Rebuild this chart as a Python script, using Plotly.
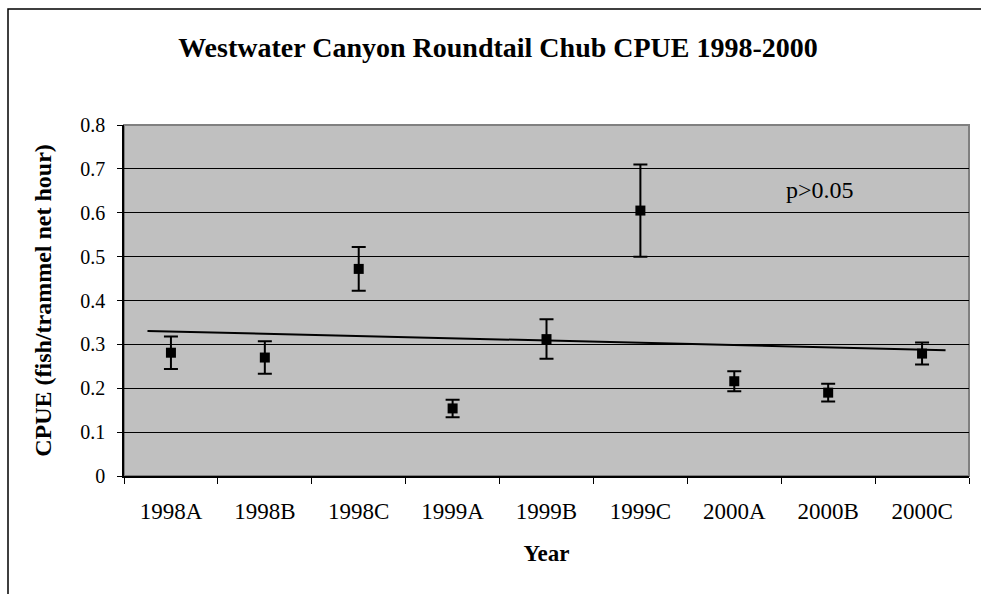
import numpy as np
import plotly.graph_objects as go

categories = ["1998A", "1998B", "1998C", "1999A", "1999B", "1999C", "2000A", "2000B", "2000C"]
cpue = [0.281, 0.270, 0.472, 0.154, 0.312, 0.605, 0.216, 0.190, 0.279]
err = [0.037, 0.037, 0.050, 0.020, 0.045, 0.105, 0.023, 0.020, 0.025]
y_ticks = [0, 0.1, 0.2, 0.3, 0.4, 0.5, 0.6, 0.7, 0.8]

title_text = "Westwater Canyon Roundtail Chub CPUE 1998-2000"
x_title = "Year"
y_title = "CPUE (fish/trammel net hour)"
note_text = "p>0.05"

# Linear trend fitted to the means (category index as x)
idx = np.arange(len(categories))
slope, intercept = np.polyfit(idx, cpue, 1)
trend_x = [-0.25, len(categories) - 0.75]
trend_y = [intercept + slope * v for v in trend_x]

FONT = "Liberation Serif"

fig = go.Figure()
fig.add_trace(go.Scatter(
    x=categories, y=cpue, mode="markers",
    marker=dict(symbol="square", size=10, color="black"),
    error_y=dict(type="data", array=err, visible=True, color="black", thickness=2, width=7),
    showlegend=False, hoverinfo="x+y",
))
fig.add_trace(go.Scatter(
    x=trend_x, y=trend_y, mode="lines", xaxis="x2",
    line=dict(color="black", width=2), showlegend=False, hoverinfo="skip",
))

L, R, T, B = 124, 12, 125, 118
W, H = 981, 594
pw, ph = W - L - R, H - T - B

fig.update_layout(
    width=W, height=H,
    margin=dict(l=L, r=R, t=T, b=B),
    paper_bgcolor="white", plot_bgcolor="#C0C0C0",
    font=dict(family=FONT, color="black"),
    title=dict(text="<b>%s</b>" % title_text, x=(498 - L) / pw, xref="paper", xanchor="center",
               y=1 - 47 / H, yanchor="middle", font=dict(size=28, family=FONT, color="black")),
    xaxis=dict(
        type="category", categoryorder="array", categoryarray=categories,
        range=[-0.5, len(categories) - 0.5],
        tickson="boundaries", ticks="outside", ticklen=6, tickcolor="black", tickwidth=1,
        showline=True, linecolor="black", linewidth=1.5, showgrid=False,
        tickfont=dict(size=23, family=FONT, color="black"), ticklabelstandoff=14,
        title=dict(text="<b>%s</b>" % x_title, font=dict(size=23, family=FONT, color="black"), standoff=22),
        zeroline=False,
    ),
    xaxis2=dict(overlaying="x", range=[-0.5, len(categories) - 0.5], visible=False),
    yaxis=dict(
        range=[0, 0.8], tickvals=y_ticks, ticktext=[("%g" % v) for v in y_ticks],
        ticks="outside", ticklen=5, tickcolor="black", tickwidth=1,
        showline=True, linecolor="black", linewidth=1.5,
        showgrid=True, gridcolor="black", gridwidth=1, zeroline=False,
        tickfont=dict(size=20, family=FONT, color="black"), ticklabelstandoff=8,
        title=dict(text="<b>%s</b>" % y_title, font=dict(size=24, family=FONT, color="black"), standoff=22),
    ),
    shapes=[
        dict(type="rect", xref="paper", yref="paper", x0=0, x1=1, y0=0, y1=1,
             line=dict(color="#808080", width=2), layer="below"),
        dict(type="rect", xref="paper", yref="paper",
             x0=(8 - L) / pw, x1=1.2, y0=-0.6, y1=(H - B - 9) / ph,
             line=dict(color="black", width=1.5), layer="above"),
    ],
    annotations=[
        dict(text=note_text, xref="x2", yref="y", x=6.91, y=0.652, showarrow=False,
             font=dict(size=24, family=FONT, color="black")),
    ],
)

fig.write_html("out.html", config={"displayModeBar": False},
               post_script="document.body.style.margin='0';document.body.style.overflow='hidden';")
